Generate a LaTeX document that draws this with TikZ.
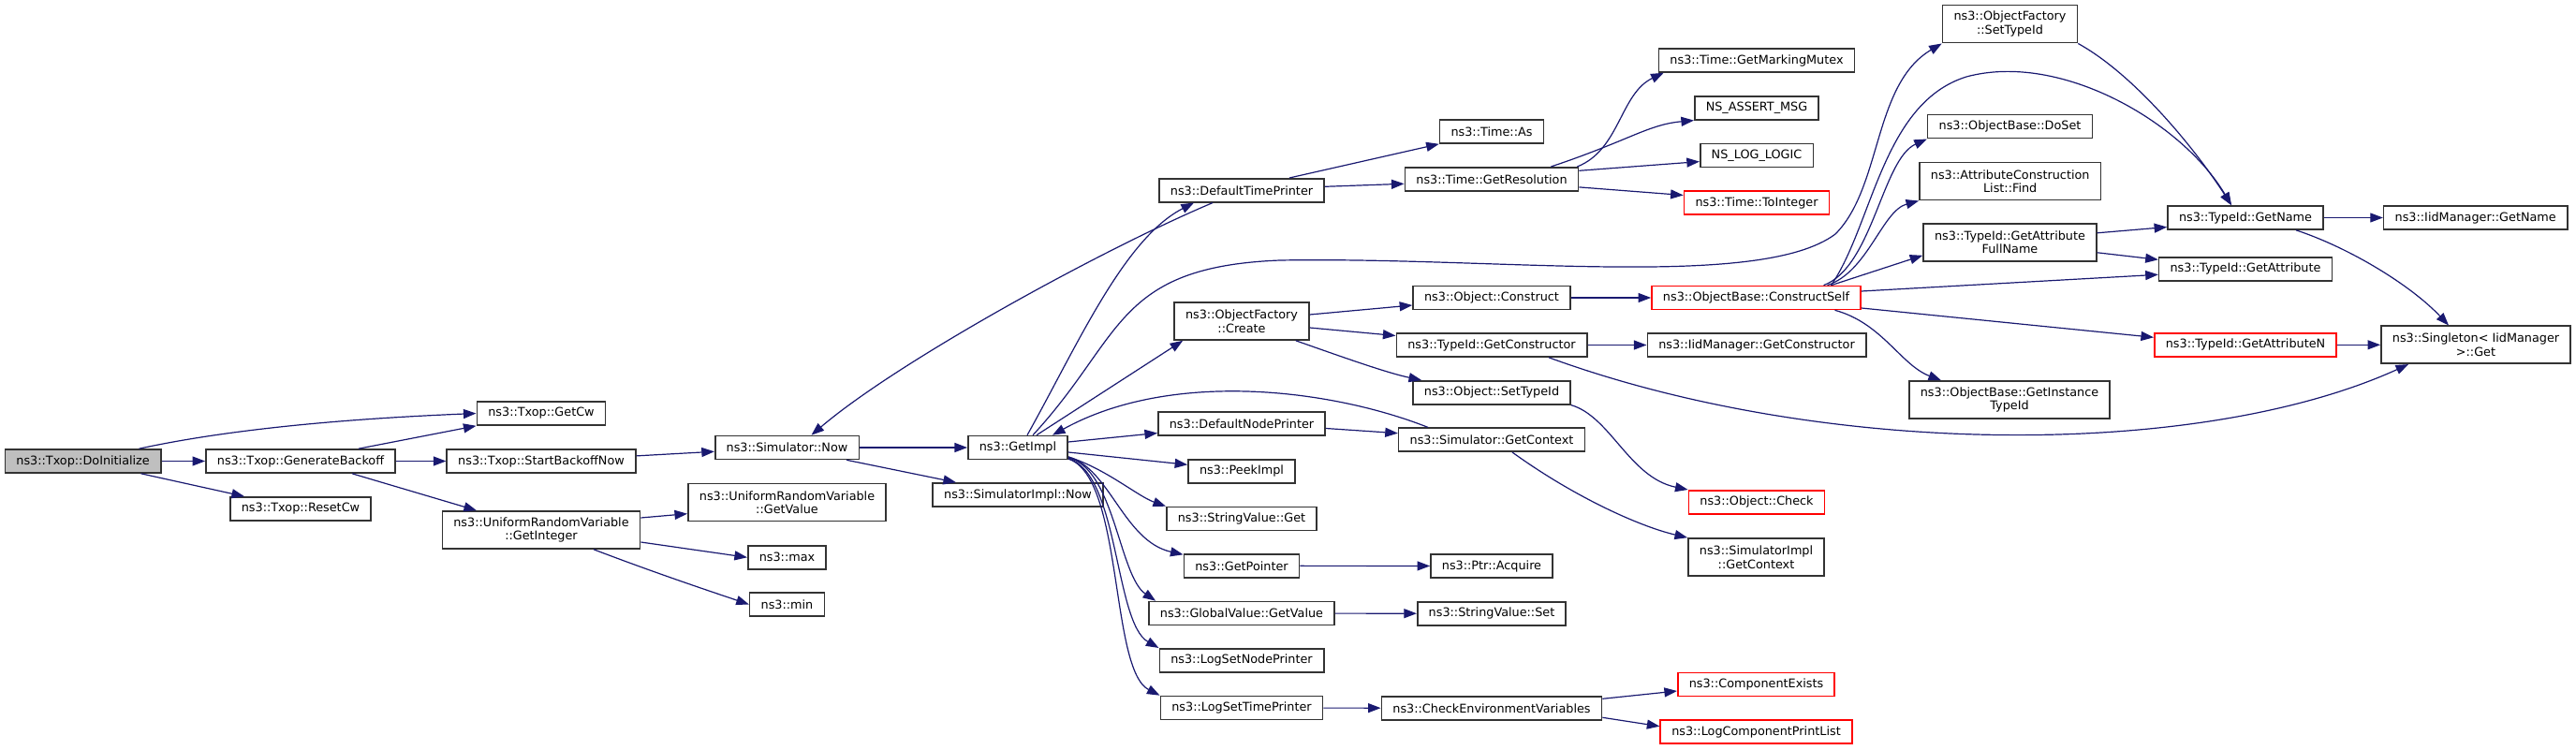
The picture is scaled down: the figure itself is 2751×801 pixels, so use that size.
\documentclass[tikz,border=0pt]{standalone}
\usepackage{fontspec}
\setmainfont{DejaVu Sans}
\usepackage{xcolor}
\usepackage{tikz}
\usetikzlibrary{arrows.meta}
\definecolor{edgeblue}{HTML}{191970}
\definecolor{boxline}{HTML}{333333}
\definecolor{rootfill}{HTML}{BFBFBF}
\definecolor{cutred}{HTML}{FF0000}

\begin{document}
\begin{tikzpicture}[x=0.5pt, y=-0.5pt,
    fn/.style={draw=boxline, line width=0.8pt, fill=white, inner xsep=6pt, inner ysep=2pt,
      minimum height=12.5pt, font=\fontsize{6.4}{7.35}\selectfont, align=center},
    twoline/.style={minimum height=20pt},
    cut/.style={draw=cutred},
    root/.style={fill=rootfill},
    call/.style={edgeblue, line width=0.6pt, -{Triangle[length=6.8pt, width=5pt]}}]
    \useasboundingbox (0,0) rectangle (2751,801);

    % callers on the left
    \node[fn, root] (doinit) at (88.6,492.5) {ns3::Txop::DoInitialize};
    \node[fn] (genbackoff) at (321,492.5) {ns3::Txop::GenerateBackoff};
    \node[fn] (resetcw) at (321,543.5) {ns3::Txop::ResetCw};
    \node[fn] (getcw) at (578,441.5) {ns3::Txop::GetCw};
    \node[fn] (startbackoff) at (578,492.5) {ns3::Txop::StartBackoffNow};
    \node[fn, twoline] (getinteger) at (578,566) {ns3::UniformRandomVariable\\::GetInteger};
    \node[fn] (simnow) at (840.5,478) {ns3::Simulator::Now};
    \node[fn, twoline] (getvalue) at (840.5,536.7) {ns3::UniformRandomVariable\\::GetValue};
    \node[fn] (nsmax) at (840.5,595.3) {ns3::max};
    \node[fn] (nsmin) at (840.5,645.5) {ns3::min};
    \node[fn] (getimpl) at (1087,478) {ns3::GetImpl};
    \node[fn] (simimplnow) at (1087,528.5) {ns3::SimulatorImpl::Now};

    % what GetImpl reaches
    \node[fn] (deftimeprinter) at (1326,203.3) {ns3::DefaultTimePrinter};
    \node[fn, twoline] (ofcreate) at (1326,343) {ns3::ObjectFactory\\::Create};
    \node[fn] (defnodeprinter) at (1326,452.5) {ns3::DefaultNodePrinter};
    \node[fn] (peekimpl) at (1326,503.3) {ns3::PeekImpl};
    \node[fn] (strget) at (1326,554) {ns3::StringValue::Get};
    \node[fn] (getpointer) at (1326,604.3) {ns3::GetPointer};
    \node[fn] (gvgetvalue) at (1326,655) {ns3::GlobalValue::GetValue};
    \node[fn] (logsetnode) at (1326,705.3) {ns3::LogSetNodePrinter};
    \node[fn] (logsettime) at (1326,756) {ns3::LogSetTimePrinter};

    \node[fn] (timeas) at (1593,140.5) {ns3::Time::As};
    \node[fn] (getres) at (1593,191.3) {ns3::Time::GetResolution};
    \node[fn] (objconstruct) at (1593,318) {ns3::Object::Construct};
    \node[fn] (getctor) at (1593,368.5) {ns3::TypeId::GetConstructor};
    \node[fn] (objsettypeid) at (1593,419.3) {ns3::Object::SetTypeId};
    \node[fn] (simgetctx) at (1593,469.7) {ns3::Simulator::GetContext};
    \node[fn] (ptracquire) at (1593,604.5) {ns3::Ptr::Acquire};
    \node[fn] (strset) at (1593,655.3) {ns3::StringValue::Set};
    \node[fn] (checkenv) at (1593,756.3) {ns3::CheckEnvironmentVariables};

    \node[fn] (markmutex) at (1876,64.5) {ns3::Time::GetMarkingMutex};
    \node[fn] (assertmsg) at (1876,115.3) {NS\_ASSERT\_MSG};
    \node[fn] (loglogic) at (1876,166) {NS\_LOG\_LOGIC};
    \node[fn, cut] (tointeger) at (1876,216.5) {ns3::Time::ToInteger};
    \node[fn, cut] (constructself) at (1875.5,318) {ns3::ObjectBase::ConstructSelf};
    \node[fn] (iidgetctor) at (1876,368.5) {ns3::IidManager::GetConstructor};
    \node[fn, cut] (objcheck) at (1876,536.3) {ns3::Object::Check};
    \node[fn, twoline] (simimplctx) at (1875.5,595) {ns3::SimulatorImpl\\::GetContext};
    \node[fn, cut] (compexists) at (1875.5,731) {ns3::ComponentExists};
    \node[fn, cut] (logcomplist) at (1875.5,781.7) {ns3::LogComponentPrintList};

    \node[fn, twoline] (ofsettypeid) at (2146.5,25.7) {ns3::ObjectFactory\\::SetTypeId};
    \node[fn] (doset) at (2146.5,135.2) {ns3::ObjectBase::DoSet};
    \node[fn, twoline] (attrfind) at (2146.7,193.7) {ns3::AttributeConstruction\\List::Find};
    \node[fn, twoline] (attrfullname) at (2146.5,258.8) {ns3::TypeId::GetAttribute\\FullName};
    \node[fn, twoline] (getinsttypeid) at (2146,427) {ns3::ObjectBase::GetInstance\\TypeId};
    \node[fn] (getname) at (2398,232.5) {ns3::TypeId::GetName};
    \node[fn] (getattr) at (2398,287.3) {ns3::TypeId::GetAttribute};
    \node[fn, cut] (getattrn) at (2398,368.3) {ns3::TypeId::GetAttributeN};
    \node[fn] (iidgetname) at (2643.7,232.5) {ns3::IidManager::GetName};
    \node[fn, twoline] (singleton) at (2644,368.3) {ns3::Singleton< IidManager\\>::Get};

    % straight calls
    \foreach \a/\b in {doinit/genbackoff, genbackoff/startbackoff, startbackoff/simnow,
        simnow/getimpl, getpointer/ptracquire, gvgetvalue/strset, logsettime/checkenv,
        objconstruct/constructself, getctor/iidgetctor, getname/iidgetname, getattrn/singleton}
      \draw[call] (\a) -- (\b);

    \draw[call] ([xshift=-12pt]doinit.north east) .. controls (260,455) and (400,446) .. (getcw.west);
    \draw[call] ([xshift=-11pt]doinit.south east) -- ([xshift=-30pt]resetcw.north);
    \draw[call] ([xshift=31pt]genbackoff.north) -- (getcw.south west);
    \draw[call] ([xshift=27.5pt]genbackoff.south) -- ([xshift=-34.5pt]getinteger.north);
    \draw[call] ([yshift=6.5pt]getinteger.east) -- ([yshift=-6pt]getvalue.west);
    \draw[call] ([yshift=-6.5pt]getinteger.east) -- (nsmax.west);
    \draw[call] ([xshift=28pt]getinteger.south) .. controls (700,612) and (760,632) .. (nsmin.west);
    \draw[call] ([xshift=-7pt]simnow.south east) -- ([xshift=-33pt]simimplnow.north);

    % around GetImpl
    \draw[call] ([xshift=-15.5pt]deftimeprinter.south) .. controls (1180,265) and (960,385) .. ([xshift=13pt]simnow.north);
    \draw[call] ([xshift=5pt]getimpl.north) .. controls (1150,370) and (1200,255) .. ([xshift=-25.5pt]deftimeprinter.south);
    \draw[call] ([xshift=10pt]getimpl.north) -- ([xshift=5pt]ofcreate.south west);
    \draw[call] ([xshift=8pt]getimpl.north) .. controls (1200,360) and (1190,285) .. (1367,278)
        .. controls (1600,274) and (1880,310) .. (1960,250)
        .. controls (2010,200) and (2000,90) .. (ofsettypeid.south west);
    \draw[call] ([xshift=-34pt]simgetctx.north) .. controls (1420,415) and (1250,395) .. ([xshift=-8.5pt]getimpl.north east);
    \draw[call] ([yshift=3pt]getimpl.east) -- ([yshift=-5pt]defnodeprinter.west);
    \draw[call] ([yshift=-2.5pt]getimpl.east) -- ([yshift=3.5pt]peekimpl.west);
    \draw[call] ([yshift=-5pt]getimpl.east) .. controls (1180,500) and (1215,530) .. (strget.north west);
    \draw[call] ([yshift=-5pt]getimpl.east) .. controls (1185,500) and (1200,578) .. ([yshift=6pt]getpointer.west);
    \draw[call] ([yshift=-5.5pt]getimpl.east) .. controls (1190,500) and (1195,615) .. ([xshift=4pt]gvgetvalue.north west);
    \draw[call] ([yshift=-6pt]getimpl.east) .. controls (1195,505) and (1190,665) .. (logsetnode.north west);
    \draw[call] ([yshift=-6pt]getimpl.east) .. controls (1200,510) and (1185,715) .. (logsettime.north west);

    \draw[call] ([xshift=11pt]simgetctx.south) .. controls (1680,530) and (1750,562) .. (simimplctx.north west);
    \draw[call] ([yshift=-2.5pt]defnodeprinter.east) -- ([yshift=3.5pt]simgetctx.west);
    \draw[call] ([xshift=25.5pt]deftimeprinter.north) -- (timeas.south west);
    \draw[call] ([yshift=2pt]deftimeprinter.east) -- ([yshift=-2.5pt]getres.west);

    \draw[call] ([xshift=-1pt]getres.north east) .. controls (1730,160) and (1730,100) .. ([xshift=3pt]markmutex.south west);
    \draw[call] ([xshift=-15pt]getres.north east) .. controls (1740,150) and (1760,133) .. (assertmsg.south west);
    \draw[call] ([yshift=4.5pt]getres.east) -- ([yshift=-3.3pt]loglogic.west);
    \draw[call] ([yshift=-4.3pt]getres.east) -- ([yshift=4pt]tointeger.west);

    \draw[call] ([yshift=3.5pt]ofcreate.east) -- ([yshift=-4pt]objconstruct.west);
    \draw[call] ([yshift=-3.5pt]ofcreate.east) -- ([yshift=5pt]getctor.west);
    \draw[call] ([xshift=-7.5pt]ofcreate.south east) .. controls (1430,380) and (1480,398) .. ([xshift=5pt]objsettypeid.north west);
    \draw[call] ([xshift=30.5pt]getctor.south) .. controls (1950,490) and (2350,490) .. ([xshift=15pt]singleton.south west);
    \draw[call] (objsettypeid.south east) .. controls (1720,445) and (1740,510) .. (objcheck.north west);
    \draw[call] ([yshift=5pt]checkenv.east) -- ([yshift=-3.5pt]compexists.west);
    \draw[call] ([yshift=-5pt]checkenv.east) -- ([yshift=3pt]logcomplist.west);

    % ConstructSelf and the TypeId side
    \draw[call] ([xshift=36pt]constructself.north) .. controls (2000,285) and (2010,170) .. (doset.south west);
    \draw[call] ([xshift=38pt]constructself.north) .. controls (1995,290) and (2010,225) .. (attrfind.south west);
    \draw[call] ([xshift=40pt]constructself.north) -- ([yshift=-7pt]attrfullname.west);
    \draw[call] ([yshift=3.5pt]constructself.east) -- ([yshift=-3pt]getattr.west);
    \draw[call] ([yshift=-5.5pt]constructself.east) -- ([yshift=4pt]getattrn.west);
    \draw[call] ([xshift=42pt]constructself.south) .. controls (2010,345) and (2030,390) .. ([xshift=-36.5pt]getinsttypeid.north);
    \draw[call] ([xshift=40pt]constructself.north) .. controls (2000,240) and (2010,110) .. (2100,82)
        .. controls (2200,55) and (2330,130) .. ([xshift=-7.5pt]getname.north);
    \draw[call] (ofsettypeid.south east) .. controls (2280,80) and (2345,160) .. ([xshift=-7.5pt]getname.north);
    \draw[call] ([yshift=5pt]attrfullname.east) -- ([yshift=-5pt]getname.west);
    \draw[call] ([yshift=-5.5pt]attrfullname.east) -- ([yshift=5pt]getattr.west);
    \draw[call] ([xshift=27pt]getname.south) .. controls (2510,265) and (2575,305) .. ([xshift=-14.5pt]singleton.north);
\end{tikzpicture}
\end{document}
